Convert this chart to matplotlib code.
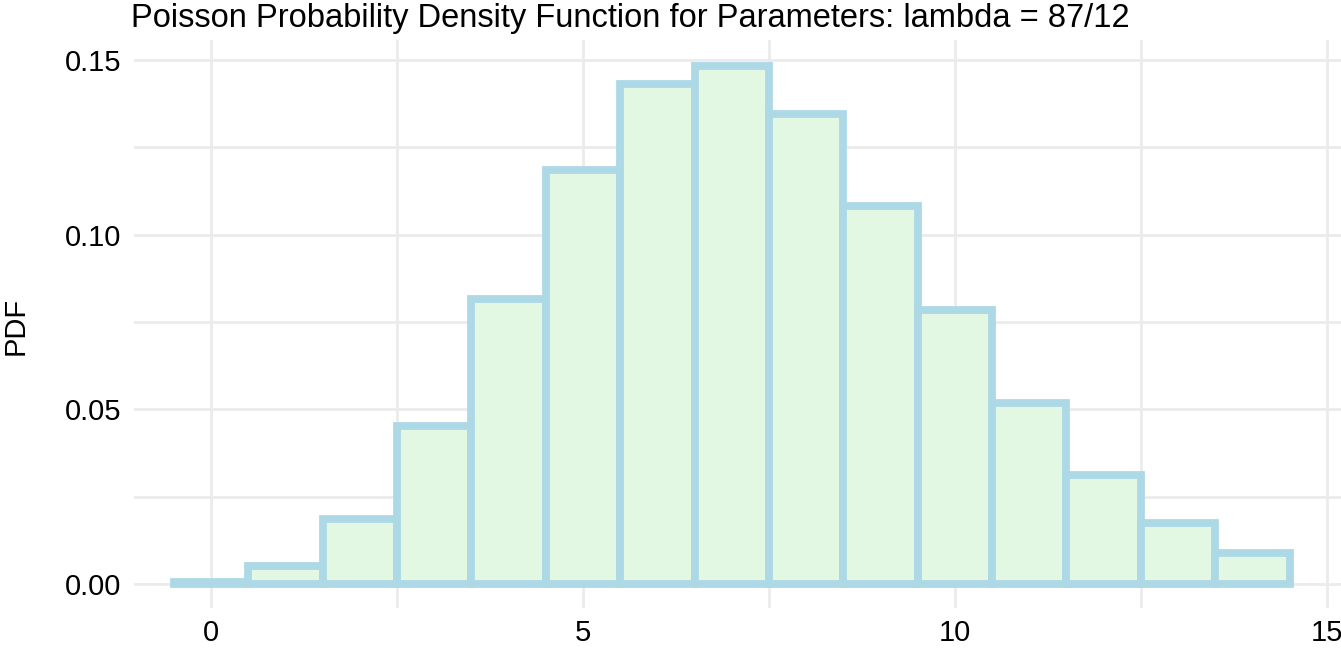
import matplotlib
matplotlib.use("Agg")
from matplotlib import pyplot as plt
import numpy as np

plt.rcParams['font.family'] = ['Liberation Sans', 'DejaVu Sans']

# values
k = [0, 1, 2, 3, 4, 5, 6, 7, 8, 9, 10, 11, 12, 13, 14]
pdf = [0.0007, 0.0052, 0.0187, 0.0451, 0.0817, 0.1185, 0.1432, 0.1483,
       0.1344, 0.1083, 0.0785, 0.0517, 0.0313, 0.0174, 0.0090]
x_ticks = [0, 5, 10, 15]
y_ticks = [0.00, 0.05, 0.10, 0.15]
y_labels = ["0.00", "0.05", "0.10", "0.15"]
title = "Poisson Probability Density Function for Parameters: lambda = 87/12"

W, H = 1341, 649
fig = plt.figure(figsize=(W / 100, H / 100), dpi=100)
ax = fig.add_axes([134 / W, 41 / H, 1207 / W, 568 / H])

grid = "#EBEBEB"
for v in [0, 2.5, 5, 7.5, 10, 12.5, 15]:
    ax.axvline(v, color=grid, lw=2.0, zorder=0)
for v in [0, 0.025, 0.05, 0.075, 0.10, 0.125, 0.15]:
    ax.axhline(v, color=grid, lw=2.0, zorder=0)

ax.bar(k, pdf, width=1.0, color="#E3F8E3", edgecolor="#ADD8E6",
       linewidth=5.6, zorder=2)

ax.set_xlim(-1.035, 15.19)
ax.set_ylim(-0.00687, 0.1557)
for s in ax.spines.values():
    s.set_visible(False)
ax.set_xticks(x_ticks)
ax.set_xticklabels([str(t) for t in x_ticks])
ax.set_yticks(y_ticks)
ax.set_yticklabels(y_labels)
ax.tick_params(length=0, labelsize=21, labelcolor="black")
ax.tick_params(axis="y", pad=9)
ax.tick_params(axis="x", pad=8)

fig.text(131 / W, 1 - 27 / H, title, fontsize=23.5, ha="left",
         va="baseline")
fig.text(16 / W, 1 - 326 / H, "PDF", fontsize=21, rotation=90,
         ha="center", va="center")

fig.savefig("out.png", dpi=100)
